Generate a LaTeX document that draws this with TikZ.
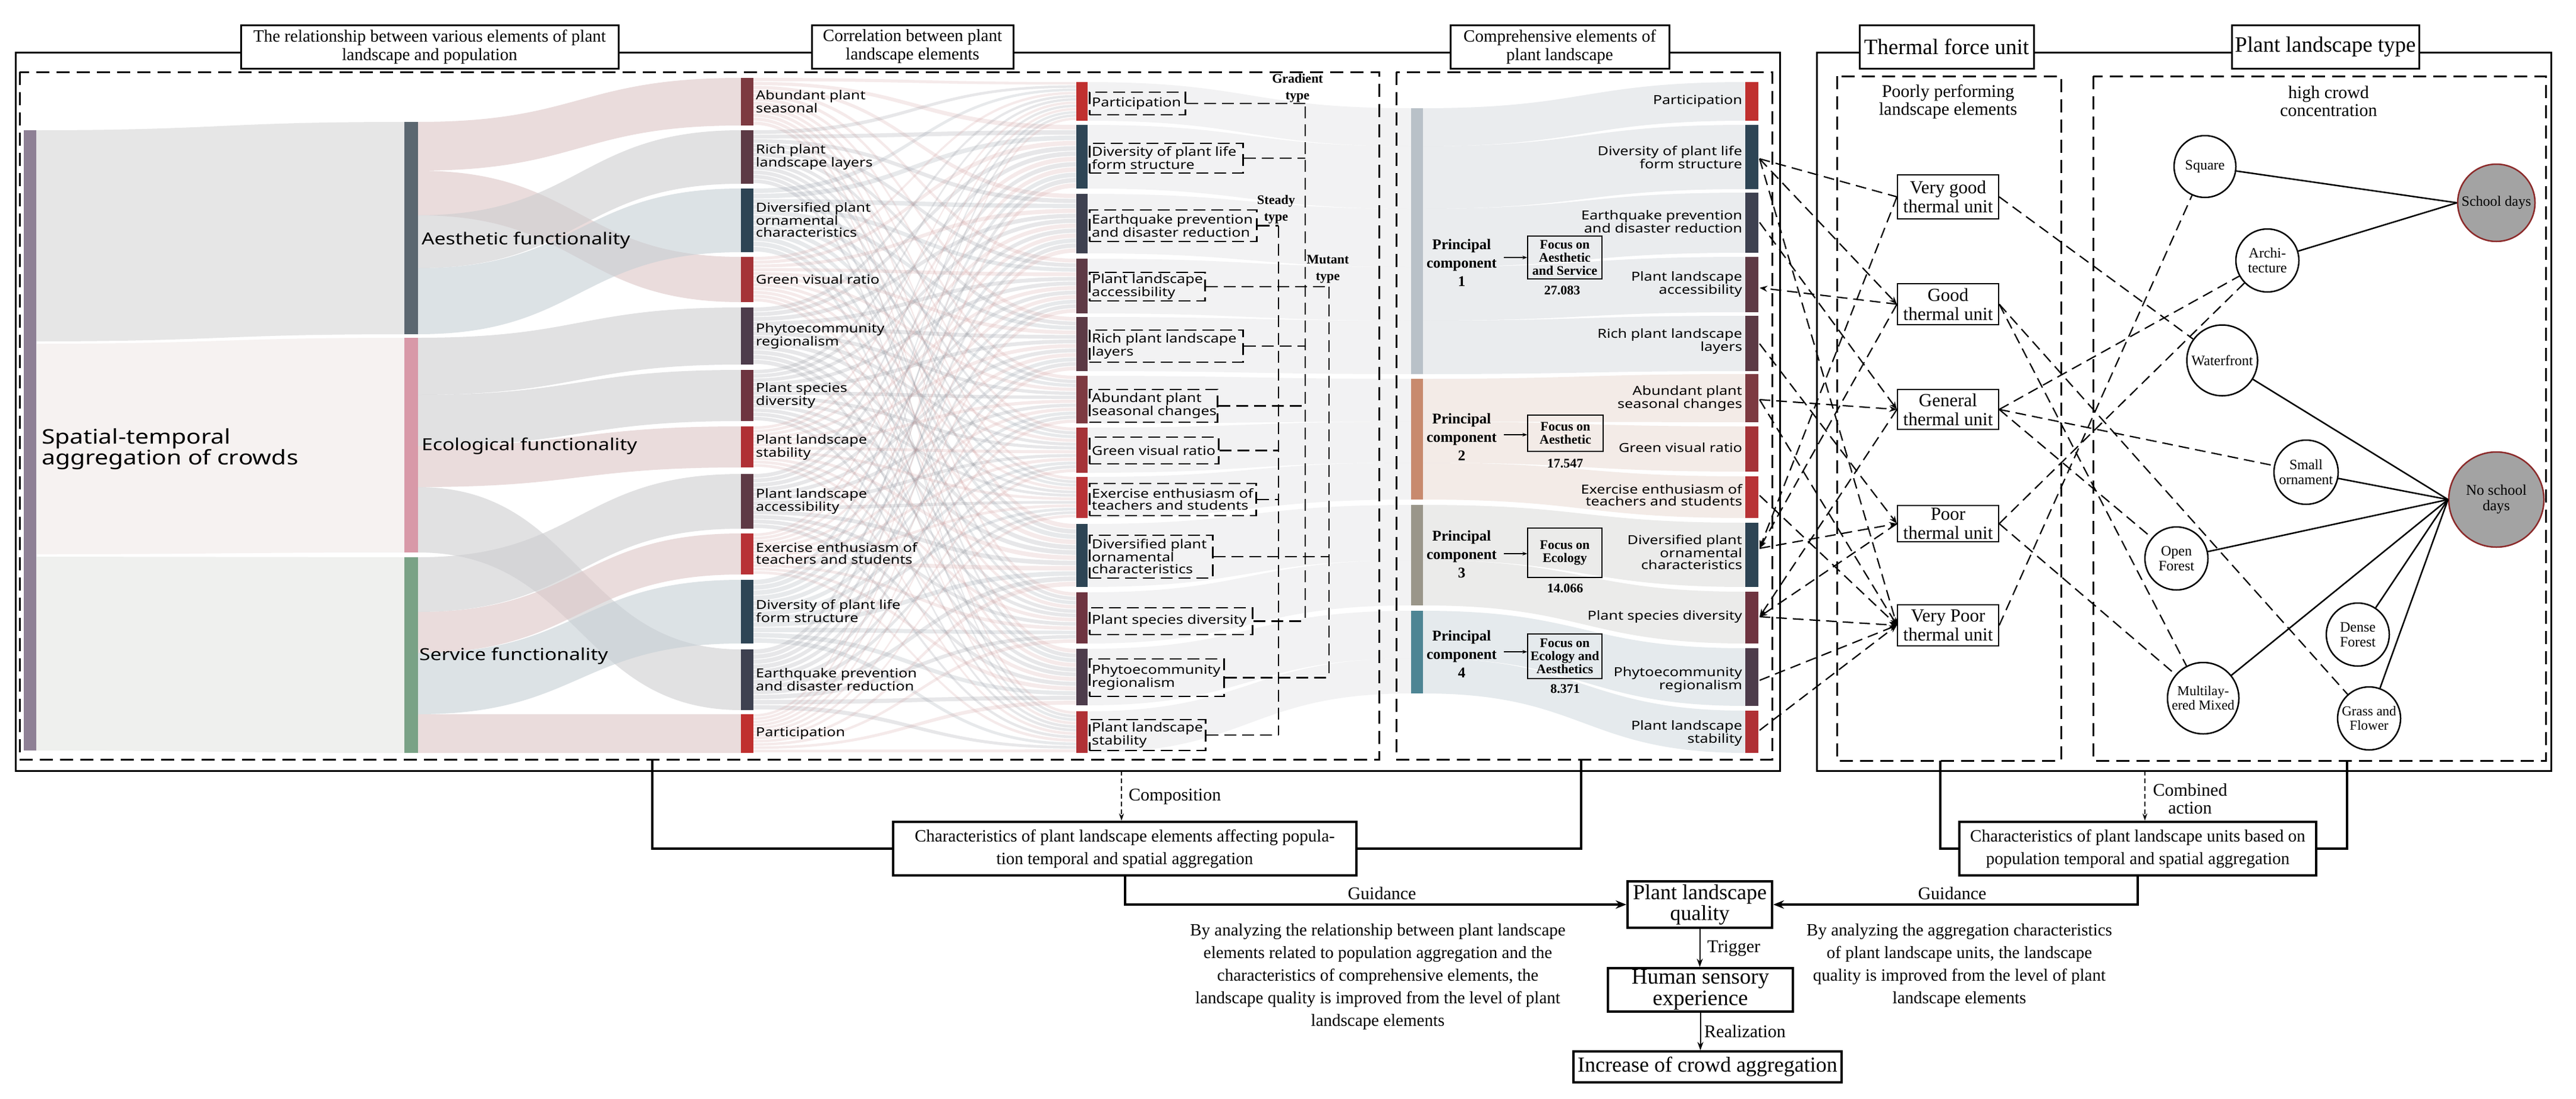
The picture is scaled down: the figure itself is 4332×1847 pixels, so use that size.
\documentclass[tikz,border=0pt]{standalone}
\usepackage{fontspec}
\setmainfont{Liberation Serif}
\newfontfamily\sk[FakeStretch=1.2]{Noto Sans}
\usetikzlibrary{arrows.meta}
\newcommand\fsz[2]{\fontsize{#1bp}{#2bp}\selectfont}
\newcommand\sband[7]{%
  \pgfmathsetmacro\xm{(#2+#5)/2}%
  \fill[#1] (#2,#3) .. controls (\xm,#3) and (\xm,#6) .. (#5,#6) -- (#5,#7) .. controls (\xm,#7) and (\xm,#4) .. (#2,#4) -- cycle;}
% bar colours
\definecolor{cA}{HTML}{8E8095}
\definecolor{cAes}{HTML}{5B6770}
\definecolor{cEco}{HTML}{D899A8}
\definecolor{cSer}{HTML}{7AA286}
\definecolor{eAbund}{HTML}{7D3A41}
\definecolor{eRich}{HTML}{5C3A45}
\definecolor{eDivOrn}{HTML}{2D4454}
\definecolor{eGreen}{HTML}{A53338}
\definecolor{ePhyto}{HTML}{4D3C4B}
\definecolor{eSpec}{HTML}{6E3440}
\definecolor{eStab}{HTML}{B03035}
\definecolor{eAcc}{HTML}{5E3A45}
\definecolor{eExer}{HTML}{B83236}
\definecolor{eLife}{HTML}{2E4555}
\definecolor{eQuake}{HTML}{3E4150}
\definecolor{ePart}{HTML}{C0302F}
\definecolor{pc1}{HTML}{B9C1C8}
\definecolor{pc2}{HTML}{C88A6E}
\definecolor{pc3}{HTML}{9A968A}
\definecolor{pc4}{HTML}{4E8594}
% flow colours
\definecolor{fAes}{HTML}{E6E6E6}
\definecolor{fEco}{HTML}{F6F2F1}
\definecolor{fSer}{HTML}{EFF0EE}
\definecolor{fpink}{HTML}{DCC6C6}
\definecolor{fgrey}{HTML}{CDCDD0}
\definecolor{fblue}{HTML}{C6CFD5}
\definecolor{flowred}{RGB}{205,150,150}
\definecolor{flowdark}{RGB}{135,137,145}
\definecolor{flowblue}{RGB}{135,145,158}
\definecolor{pcf1}{HTML}{E3E6E9}
\definecolor{pcf2}{HTML}{EFE5E0}
\definecolor{pcf3}{HTML}{E5E5E3}
\definecolor{pcf4}{HTML}{DDE4E7}
\definecolor{dayfill}{HTML}{A3A3A3}
\definecolor{dayline}{HTML}{8C2A2A}
\tikzset{
  myframe/.style={draw,line width=3bp},
  mypanel/.style={draw,line width=3bp,dash pattern=on 22bp off 12bp},
  hdr/.style={draw,line width=3bp,fill=white,align=center,inner sep=0pt,font=\fsz{29}{31}},
  hdrbig/.style={hdr,font=\fsz{37}{38}},
  skl/.style={font=\sk\fsz{21}{20},inner sep=0pt,align=left,anchor=west},
  skr/.style={font=\sk\fsz{21}{20},inner sep=0pt,align=right,anchor=east},
  dlab/.style={draw,line width=2.5bp,dash pattern=on 20bp off 10bp,inner sep=0pt,anchor=west},
  dconn/.style={draw,line width=2.5bp,dash pattern=on 20bp off 10bp},
  typelab/.style={font=\bfseries\fsz{22}{28},align=center,inner sep=0pt},
  pclab/.style={font=\bfseries\fsz{25}{31},align=center,inner sep=0pt},
  focus/.style={draw,line width=1.6bp,font=\bfseries\fsz{22}{22},align=center,inner sep=0pt},
  val/.style={font=\bfseries\fsz{22}{22},inner sep=0pt},
  parr/.style={line width=1.5bp,-{Stealth[length=8bp,width=6bp]}},
  tbox/.style={draw,line width=2bp,fill=white,align=center,inner sep=0pt,font=\fsz{31}{32}},
  tconn/.style={draw,line width=2.2bp,dash pattern=on 18bp off 10bp},
  tarr/.style={tconn,-{Stealth[length=13bp,width=10bp]}},
  circ/.style={circle,draw,line width=2.5bp,fill=white,inner sep=0pt,align=center,font=\fsz{24}{25}},
  dayc/.style={circ,fill=dayfill,draw=dayline},
  solidc/.style={draw,line width=2.5bp},
  bbox/.style={draw,line width=4bp,fill=white,align=center,inner sep=0pt,font=\fsz{29}{38}},
  bline/.style={draw,line width=4bp},
  barr/.style={bline,-{Stealth[length=18bp,width=14bp]}},
  thinarr/.style={draw,line width=2bp,-{Stealth[length=14bp,width=10bp]}},
  dasharr/.style={draw,line width=1.6bp,dash pattern=on 8bp off 5bp,-{Stealth[length=12bp,width=8bp]}},
  plain/.style={font=\fsz{30}{30},inner sep=0pt,align=center},
  para/.style={font=\fsz{29}{38},inner sep=0pt,align=center}
}
\begin{document}
\begin{tikzpicture}[x=1bp,y=-1bp]
\useasboundingbox (0,0) rectangle (4332,1847);
\fill[white] (0,0) rectangle (4332,1847);

% ---------------- Sankey: A -> B ----------------
\sband{fill=fAes}{61}{219}{574}{680}{205}{562}
\sband{fill=fEco}{61}{578}{932}{680}{568}{929}
\sband{fill=fSer}{61}{936}{1262}{680}{937}{1266}

% ---------------- B -> C ----------------
\sband{fill=fpink,fill opacity=.6}{703}{205}{287}{1246}{131}{211}
\sband{fill=fpink,fill opacity=.6}{703}{287}{362}{1246}{432}{508}
\sband{fill=fgrey,fill opacity=.6}{703}{362}{451}{1246}{219}{309}
\sband{fill=fblue,fill opacity=.6}{703}{451}{562}{1246}{317}{424}
\sband{fill=fgrey,fill opacity=.6}{703}{568}{664}{1246}{517}{613}
\sband{fill=fgrey,fill opacity=.6}{703}{664}{750}{1246}{622}{708}
\sband{fill=fpink,fill opacity=.6}{703}{750}{819}{1246}{717}{786}
\sband{fill=fgrey,fill opacity=.6}{703}{819}{929}{1246}{1092}{1194}
\sband{fill=fgrey,fill opacity=.6}{703}{937}{1029}{1246}{797}{889}
\sband{fill=fpink,fill opacity=.6}{703}{1029}{1098}{1246}{897}{966}
\sband{fill=fblue,fill opacity=.6}{703}{1098}{1201}{1246}{975}{1082}
\sband{fill=fpink,fill opacity=.6}{703}{1201}{1266}{1246}{1201}{1266}

% ---------------- C -> D mesh ----------------
\def\Ct{{131,219,317,432,517,622,717,797,897,975,1092,1201}}
\def\Cb{{211,309,424,508,613,708,786,889,966,1082,1194,1266}}
\def\Dt{{138,210,326,435,533,632,719,802,881,996,1091,1196}}
\def\Db{{203,317,426,527,624,712,795,871,987,1082,1186,1266}}
\def\Ck{{1,0,2,1,0,0,1,0,1,2,0,1}}
\foreach \i in {0,...,11}{
  \foreach \j in {0,...,11}{
    \pgfmathsetmacro\qa{\Ct[\i]}
    \pgfmathsetmacro\qb{\Cb[\i]}
    \pgfmathsetmacro\qc{\Dt[\j]}
    \pgfmathsetmacro\qd{\Db[\j]}
    \pgfmathsetmacro\ya{\qa+(\qb-\qa)*\j/12}
    \pgfmathsetmacro\yb{\qa+(\qb-\qa)*(\j+1)/12-1.2}
    \pgfmathsetmacro\za{\qc+(\qd-\qc)*\i/12}
    \pgfmathsetmacro\zb{\qc+(\qd-\qc)*(\i+1)/12-1.2}
    \pgfmathtruncatemacro\kk{\Ck[\i]}
    \ifcase\kk\def\fc{flowdark}\or\def\fc{flowred}\or\def\fc{flowblue}\fi
    \sband{fill=\fc,fill opacity=0.2}{1267}{\ya}{\yb}{1810}{\za}{\zb}
  }
}

% ---------------- D -> PC -> E ----------------
\def\Pt{{182,246,351,449,539,637,709,778,849,942,1027,1107}}
\def\Pb{{246,351,449,539,629,709,778,840,942,1018,1107,1166}}
\def\Et{{138,210,324,432,531,629,717,801,879,995,1090,1195}}
\def\Eb{{203,318,425,525,624,710,793,871,987,1082,1187,1266}}
\def\Pg{{1,1,1,1,1,2,2,2,3,3,4,4}}
\foreach \j in {0,...,11}{
  \pgfmathsetmacro\qa{\Dt[\j]}
  \pgfmathsetmacro\qb{\Db[\j]}
  \pgfmathsetmacro\qc{\Pt[\j]}
  \pgfmathsetmacro\qd{\Pb[\j]}
  \pgfmathsetmacro\ya{\Et[\j]}
  \pgfmathsetmacro\yb{\Eb[\j]}
  \pgfmathtruncatemacro\kk{\Pg[\j]}
  \sband{fill=flowdark,fill opacity=0.10}{1829}{\qa}{\qb}{2373}{\qc}{\qd}
  \sband{fill=pcf\kk,fill opacity=0.75}{2393}{\qc}{\qd}{2935}{\ya}{\yb}
}

% ---------------- bars ----------------
\fill[cA] (40,219) rectangle (61,1262);
\fill[cAes] (680,205) rectangle (703,562);
\fill[cEco] (680,568) rectangle (703,929);
\fill[cSer] (680,937) rectangle (703,1266);
\foreach \t/\b/\c in {131/211/eAbund,219/309/eRich,317/424/eDivOrn,432/508/eGreen,517/613/ePhyto,622/708/eSpec,717/786/eStab,797/889/eAcc,897/966/eExer,975/1082/eLife,1092/1194/eQuake,1201/1266/ePart}
  \fill[\c] (1246,\t) rectangle (1267,\b);
\foreach \t/\b/\c in {138/203/ePart,210/317/eLife,326/426/eQuake,435/527/eAcc,533/624/eRich,632/712/eAbund,719/795/eGreen,802/871/eExer,881/987/eDivOrn,996/1082/eSpec,1091/1186/ePhyto,1196/1266/eStab}
  \fill[\c] (1810,\t) rectangle (1829,\b);
\foreach \t/\b/\c in {138/203/ePart,210/318/eLife,324/425/eQuake,432/525/eAcc,531/624/eRich,629/710/eAbund,717/793/eGreen,801/871/eExer,879/987/eDivOrn,995/1082/eSpec,1090/1187/ePhyto,1195/1266/eStab}
  \fill[\c] (2935,\t) rectangle (2957,\b);
\fill[pc1] (2373,182) rectangle (2393,629);
\fill[pc2] (2373,637) rectangle (2393,840);
\fill[pc3] (2373,849) rectangle (2393,1018);
\fill[pc4] (2373,1027) rectangle (2393,1166);

% ---------------- frames ----------------
\draw[myframe] (26,88) rectangle (2993,1296);
\draw[mypanel] (33,121) rectangle (2319,1277);
\draw[mypanel] (2348,121) rectangle (2980,1277);
\draw[myframe] (3055,88) rectangle (4290,1296);
\draw[mypanel] (3089,128) rectangle (3466,1279);
\draw[mypanel] (3520,128) rectangle (4281,1279);

\node[hdr,minimum width=635bp,minimum height=73bp] (h1) at (722.5,78.5) {The relationship between various elements of plant\\landscape and population};
\node[hdr,minimum width=339bp,minimum height=73bp] (h2) at (1534.5,78.5) {Correlation between plant\\landscape elements};
\node[hdr,minimum width=368bp,minimum height=73bp] (h3) at (2623,78.5) {Comprehensive elements of\\plant landscape};
\node[hdrbig,minimum width=293bp,minimum height=73bp] (h4) at (3273.5,78.5) {Thermal force unit};
\node[hdrbig,minimum width=315bp,minimum height=73bp] (h5) at (3910.5,78.5) {Plant landscape type};

% ---------------- sankey labels ----------------
\node[skl,font=\sk\fsz{34}{34}] (la) at (70,755) {Spatial-temporal\\aggregation of crowds};
\node[skl,font=\sk\fsz{28}{28}] (lb1) at (709,404) {Aesthetic functionality};
\node[skl,font=\sk\fsz{28}{28}] (lb2) at (709,750) {Ecological functionality};
\node[skl,font=\sk\fsz{28}{28}] (lb3) at (705,1103) {Service functionality};

\node[skl] (cl1) at (1271,171) {Abundant plant\\seasonal};
\node[skl] (cl2) at (1271,264) {Rich plant\\landscape layers};
\node[skl] (cl3) at (1271,370) {Diversified plant\\ornamental\\characteristics};
\node[skl] (cl4) at (1271,470) {Green visual ratio};
\node[skl] (cl5) at (1271,565) {Phytoecommunity\\regionalism};
\node[skl] (cl6) at (1271,665) {Plant species\\diversity};
\node[skl] (cl7) at (1271,752) {Plant landscape\\stability};
\node[skl] (cl8) at (1271,843) {Plant landscape\\accessibility};
\node[skl] (cl9) at (1271,931) {Exercise enthusiasm of\\teachers and students};
\node[skl] (cl10) at (1271,1028) {Diversity of plant life\\form structure};
\node[skl] (cl11) at (1271,1143) {Earthquake prevention\\and disaster reduction};
\node[skl] (cl12) at (1271,1233) {Participation};

% ---------------- D column dashed label boxes ----------------
\node[dlab,minimum width=161bp,minimum height=38bp] (d1) at (1831,174) {};
\node[dlab,minimum width=258bp,minimum height=50bp] (d2) at (1831,266) {};
\node[dlab,minimum width=281bp,minimum height=53bp] (d3) at (1831,379.5) {};
\node[dlab,minimum width=194bp,minimum height=48bp] (d4) at (1831,482) {};
\node[dlab,minimum width=258bp,minimum height=54bp] (d5) at (1831,582) {};
\node[dlab,minimum width=215bp,minimum height=55bp] (d6) at (1831,682.5) {};
\node[dlab,minimum width=217bp,minimum height=45bp] (d7) at (1831,757.5) {};
\node[dlab,minimum width=280bp,minimum height=54bp] (d8) at (1831,840) {};
\node[dlab,minimum width=207bp,minimum height=72bp] (d9) at (1831,936) {};
\node[dlab,minimum width=274bp,minimum height=45bp] (d10) at (1831,1044.5) {};
\node[dlab,minimum width=226bp,minimum height=63bp] (d11) at (1831,1139.5) {};
\node[dlab,minimum width=195bp,minimum height=52bp] (d12) at (1831,1236) {};
\node[skl] (dl1) at (1836,174) {Participation};
\node[skl] (dl2) at (1836,266) {Diversity of plant life\\form structure};
\node[skl] (dl3) at (1836,379.5) {Earthquake prevention\\and disaster reduction};
\node[skl] (dl4) at (1836,482) {Plant landscape\\accessibility};
\node[skl] (dl5) at (1836,582) {Rich plant landscape\\layers};
\node[skl] (dl6) at (1836,682.5) {Abundant plant\\seasonal changes};
\node[skl] (dl7) at (1836,757.5) {Green visual ratio};
\node[skl] (dl8) at (1836,840) {Exercise enthusiasm of\\teachers and students};
\node[skl] (dl9) at (1836,936) {Diversified plant\\ornamental\\characteristics};
\node[skl] (dl10) at (1836,1044.5) {Plant species diversity};
\node[skl] (dl11) at (1836,1139.5) {Phytoecommunity\\regionalism};
\node[skl] (dl12) at (1836,1236) {Plant landscape\\stability};

% type lines
\coordinate (gt) at (2195,179);
\coordinate (gb) at (2195,1044.5);
\coordinate (st) at (2150,379.5);
\coordinate (sb) at (2150,1236);
\coordinate (mt) at (2235,482);
\coordinate (mb) at (2235,1139.5);
\draw[dconn] (gt) -- (gb);
\draw[dconn] (st) -- (sb);
\draw[dconn] (mt) -- (mb);
\draw[dconn] (d1.east) -- (d1.east -| gt);
\draw[dconn] (d2.east) -- (d2.east -| gt);
\draw[dconn] (d5.east) -- (d5.east -| gt);
\draw[dconn] (d6.east) -- (d6.east -| gt);
\draw[dconn] (d10.east) -- (d10.east -| gt);
\draw[dconn] (d3.east) -- (d3.east -| st);
\draw[dconn] (d7.east) -- (d7.east -| st);
\draw[dconn] (d8.east) -- (d8.east -| st);
\draw[dconn] (d12.east) -- (d12.east -| st);
\draw[dconn] (d4.east) -- (d4.east -| mt);
\draw[dconn] (d9.east) -- (d9.east -| mt);
\draw[dconn] (d11.east) -- (d11.east -| mt);
\node[typelab] (tg) at (2182,148) {Gradient\\type};
\node[typelab] (ts) at (2146,352) {Steady\\type};
\node[typelab] (tm) at (2233,453) {Mutant\\type};

% ---------------- comprehensive column ----------------
\node[pclab] (p1) at (2458,442) {Principal\\component\\1};
\node[pclab] (p2) at (2458,735) {Principal\\component\\2};
\node[pclab] (p3) at (2458,932) {Principal\\component\\3};
\node[pclab] (p4) at (2458,1100) {Principal\\component\\4};
\node[focus,minimum width=125bp,minimum height=72bp] (f1) at (2631.5,433) {Focus on\\Aesthetic\\and Service};
\node[focus,minimum width=127bp,minimum height=61bp] (f2) at (2632.5,728.5) {Focus on\\Aesthetic};
\node[focus,minimum width=125bp,minimum height=83bp] (f3) at (2631.5,929.5) {Focus on\\Ecology};
\node[focus,minimum width=125bp,minimum height=75bp] (f4) at (2631.5,1103.5) {Focus on\\Ecology and\\Aesthetics};
\node[val] (v1) at (2627,488) {27.083};
\node[val] (v2) at (2632,779) {17.547};
\node[val] (v3) at (2632,989) {14.066};
\node[val] (v4) at (2632,1158) {8.371};
\coordinate (pa1) at (2529,433);
\coordinate (pa2) at (2529,731);
\coordinate (pa3) at (2529,931);
\coordinate (pa4) at (2529,1096);
\draw[parr] (pa1) -- (pa1 -| f1.west);
\draw[parr] (pa2) -- (pa2 -| f2.west);
\draw[parr] (pa3) -- (pa3 -| f3.west);
\draw[parr] (pa4) -- (pa4 -| f4.west);

\node[skr] (el1) at (2930,170) {Participation};
\node[skr] (el2) at (2930,265) {Diversity of plant life\\form structure};
\node[skr] (el3) at (2930,373) {Earthquake prevention\\and disaster reduction};
\node[skr] (el4) at (2930,478) {Plant landscape\\accessibility};
\node[skr] (el5) at (2930,574) {Rich plant landscape\\layers};
\node[skr] (el6) at (2930,670) {Abundant plant\\seasonal changes};
\node[skr] (el7) at (2930,753) {Green visual ratio};
\node[skr] (el8) at (2930,833) {Exercise enthusiasm of\\teachers and students};
\node[skr] (el9) at (2930,929) {Diversified plant\\ornamental\\characteristics};
\node[skr] (el10) at (2930,1037) {Plant species diversity};
\node[skr] (el11) at (2930,1143) {Phytoecommunity\\regionalism};
\node[skr] (el12) at (2930,1233) {Plant landscape\\stability};

% ---------------- thermal units ----------------
\node[plain] (tt) at (3276,171) {Poorly performing\\landscape elements};
\node[tbox,minimum width=170bp,minimum height=74bp] (vg) at (3276,331) {Very good\\thermal unit};
\node[tbox,minimum width=170bp,minimum height=69bp] (gd) at (3276,511.5) {Good\\thermal unit};
\node[tbox,minimum width=170bp,minimum height=67bp] (gn) at (3276,688.5) {General\\thermal unit};
\node[tbox,minimum width=170bp,minimum height=61bp] (pr) at (3276,880.5) {Poor\\thermal unit};
\node[tbox,minimum width=170bp,minimum height=69bp] (vp) at (3276,1051.5) {Very Poor\\thermal unit};

\coordinate (e2) at (2959,267);
\coordinate (e3) at (2959,374);
\coordinate (e4) at (2959,484);
\coordinate (e5) at (2959,578);
\coordinate (e6) at (2959,672);
\coordinate (e8) at (2959,833);
\coordinate (e9) at (2959,922);
\coordinate (e10) at (2959,1037);
\coordinate (e11) at (2959,1144);
\coordinate (e12) at (2959,1228);
\draw[tconn] (e2) -- (vg.west);
\draw[tarr] (e2) -- (gd.west);
\draw[tarr] (e2) -- (vp.west);
\draw[tarr] (e3) -- (gn.west);
\draw[tarr] (gd.west) -- (e4);
\draw[tarr] (e5) -- (pr.west);
\draw[tarr] (e6) -- (gn.west);
\draw[tarr] (e6) -- (vp.west);
\draw[tarr] (e8) -- (vp.west);
\draw[tarr] (vg.west) -- (e9);
\draw[tarr] (gd.west) -- (e9);
\draw[tarr] (e9) -- (pr.west);
\draw[tarr] (gn.west) -- (e10);
\draw[tarr] (pr.west) -- (e10);
\draw[tarr] (e10) -- (vp.west);
\draw[tarr] (e11) -- (vp.west);
\draw[tarr] (e12) -- (vp.west);

% ---------------- plant landscape types ----------------
\node[plain] (hc) at (3916,170) {high crowd\\concentration};
\node[circ,minimum size=104bp] (sq) at (3708,280) {Square};
\node[circ,minimum size=106bp] (ar) at (3813,438) {Archi-\\tecture};
\node[circ,minimum size=119bp] (wf) at (3737,606) {Waterfront};
\node[circ,minimum size=108bp] (so) at (3878,794) {Small\\ornament};
\node[circ,minimum size=106bp] (of) at (3660,939) {Open\\Forest};
\node[circ,minimum size=106bp] (df) at (3965,1067) {Dense\\Forest};
\node[circ,minimum size=120bp,font=\fsz{23}{24}] (mm) at (3705,1174) {Multilay-\\ered Mixed};
\node[circ,minimum size=106bp,font=\fsz{23}{24}] (gf) at (3984,1208) {Grass and\\Flower};
\node[dayc,minimum size=130bp] (sd) at (4198,341) {School days};
\node[dayc,minimum size=160bp,font=\fsz{25}{26}] (ns) at (4198,840) {No school\\days};

\draw[solidc] (sq) -- (sd.west);
\draw[solidc] (ar) -- (sd.west);
\draw[solidc] (wf) -- (ns.west);
\draw[solidc] (so) -- (ns.west);
\draw[solidc] (of) -- (ns.west);
\draw[solidc] (mm) -- (ns.west);
\draw[solidc] (df) -- (ns.west);
\draw[solidc] (gf) -- (ns.west);

\draw[tconn] (vg.east) -- (wf);
\draw[tconn] (gd.east) -- (gf);
\draw[tconn] (gd.east) -- (mm);
\draw[tconn] (gn.east) -- (ar);
\draw[tconn] (gn.east) -- (so);
\draw[tconn] (gn.east) -- (of);
\draw[tconn] (pr.east) -- (ar);
\draw[tconn] (pr.east) -- (mm);
\draw[tconn] (vp.east) -- (sq);

% ---------------- bottom flow ----------------
\node[bbox,minimum width=779bp,minimum height=90bp] (b1) at (1891.5,1427) {Characteristics of plant landscape elements affecting popula-\\tion temporal and spatial aggregation};
\node[bbox,minimum width=600bp,minimum height=90bp] (b2) at (3595,1427) {Characteristics of plant landscape units based on\\population temporal and spatial aggregation};
\node[bbox,minimum width=243bp,minimum height=78bp,font=\fsz{36}{35}] (plq) at (2858.5,1521) {Plant landscape\\quality};
\node[bbox,minimum width=311bp,minimum height=73bp,font=\fsz{37}{36}] (hse) at (2859.5,1664.5) {Human sensory\\experience};
\node[bbox,minimum width=451bp,minimum height=52bp,font=\fsz{36}{36}] (ica) at (2871.5,1794) {Increase of crowd aggregation};

\coordinate (lp) at (1097,1277);
\coordinate (cp) at (2659,1277);
\coordinate (tp) at (3263,1279);
\coordinate (ptp) at (3947,1279);
\draw[bline] (lp) |- (b1.west);
\draw[bline] (cp) |- (b1.east);
\draw[bline] (tp) |- (b2.west);
\draw[bline] (ptp) |- (b2.east);
\coordinate (comp) at (1886,1296);
\coordinate (comb) at (3607,1296);
\draw[dasharr] (comp) -- (comp |- b1.north);
\draw[dasharr] (comb) -- (comb |- b2.north);
\node[plain,anchor=west] (lcomp) at (1898,1340) {Composition};
\node[plain] (lcomb) at (3683,1343) {Combined\\action};
\draw[barr] (b1.south) |- (plq.west);
\draw[barr] (b2.south) |- (plq.east);
\node[plain] (lg1) at (2324,1502) {Guidance};
\node[plain] (lg2) at (3283,1502) {Guidance};
\draw[thinarr] (plq.south) -- (plq.south |- hse.north);
\draw[thinarr] (hse.south) -- (hse.south |- ica.north);
\node[plain,anchor=west] (ltr) at (2871,1595) {Trigger};
\node[plain,anchor=west] (lre) at (2866,1734) {Realization};
\node[para] (pl) at (2317,1643) {By analyzing the relationship between plant landscape\\elements related to population aggregation and the\\characteristics of comprehensive elements, the\\landscape quality is improved from the level of plant\\landscape elements};
\node[para] (pr2) at (3295,1624) {By analyzing the aggregation characteristics\\of plant landscape units, the landscape\\quality is improved from the level of plant\\landscape elements};
\end{tikzpicture}
\end{document}
